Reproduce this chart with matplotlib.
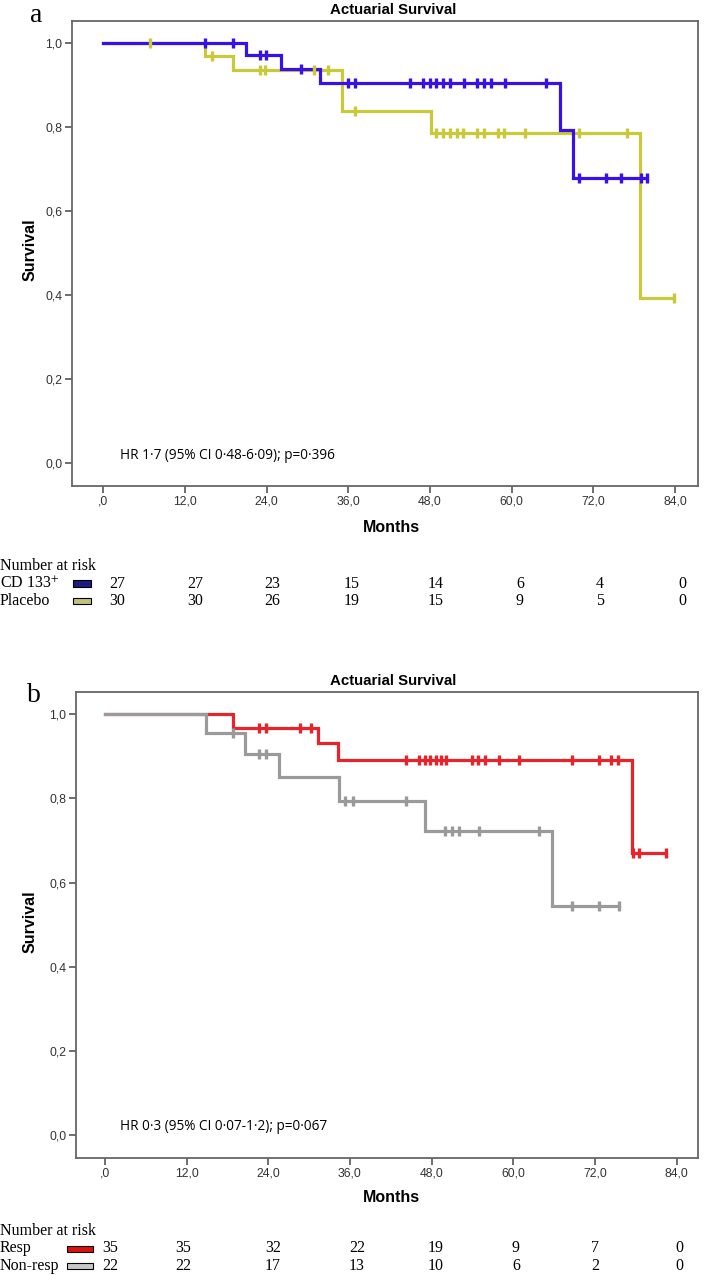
import numpy as np
import matplotlib.pyplot as plt
from matplotlib.patches import Rectangle

plt.rcParams['font.family'] = ['Liberation Sans', 'DejaVu Sans']
plt.rcParams['mathtext.fontset'] = 'stix'

W, H = 709, 1275

month_ticks = [0, 12, 24, 36, 48, 60, 72, 84]
month_labels = [',0', '12,0', '24,0', '36,0', '48,0', '60,0', '72,0', '84,0']
surv_ticks = [0.0, 0.2, 0.4, 0.6, 0.8, 1.0]
surv_labels = ['0,0', '0,2', '0,4', '0,6', '0,8', '1,0']

# panel a: CD133+ vs placebo
cd133_event_t = [21.0, 26.1, 31.9, 67.1, 69.0]
cd133_event_s = [0.973, 0.939, 0.906, 0.794, 0.680]
cd133_cens = [15.0, 19.1, 23.0, 23.9, 29.0, 36.0, 36.9, 45.0, 46.9, 48.0, 48.9,
              49.9, 50.9, 53.0, 54.9, 55.9, 56.9, 59.0, 65.0, 69.9, 73.9, 76.0,
              79.0, 79.9]
placebo_event_t = [14.9, 19.0, 35.0, 48.1, 78.9]
placebo_event_s = [0.970, 0.937, 0.840, 0.787, 0.394]
placebo_cens = [6.9, 16.0, 23.0, 23.8, 30.9, 33.0, 36.9, 48.9, 49.9, 50.9, 51.9,
                52.9, 54.9, 55.9, 58.0, 58.8, 62.0, 69.9, 76.9, 83.9]
cd133_risk = [27, 27, 23, 15, 14, 6, 4, 0]
placebo_risk = [30, 30, 26, 19, 15, 9, 5, 0]

# panel b: responders vs non-responders
resp_event_t = [18.8, 31.3, 34.2, 77.5]
resp_event_s = [0.968, 0.931, 0.891, 0.671]
resp_cens = [22.6, 23.7, 28.6, 30.3, 44.2, 46.1, 47.0, 47.7, 48.6, 49.4, 50.1,
             54.0, 54.8, 55.9, 57.9, 60.8, 68.7, 72.6, 74.4, 75.4, 77.6, 78.5, 82.4]
nonresp_event_t = [14.8, 20.6, 25.6, 34.4, 47.1, 65.7]
nonresp_event_s = [0.955, 0.906, 0.850, 0.795, 0.723, 0.544]
nonresp_cens = [18.8, 22.6, 23.6, 35.3, 36.4, 44.2, 50.0, 51.0, 52.0, 54.9,
                63.8, 68.7, 72.6, 75.5]
resp_risk = [35, 35, 32, 22, 19, 9, 7, 0]
nonresp_risk = [22, 22, 17, 13, 10, 6, 2, 0]


def ft(fig, x, y, s, **kw):
    fig.text(x / W, 1 - y / H, s, **kw)


def km_line(ax, ev_t, ev_s, cens, color):
    end = max(max(cens), ev_t[-1])
    xs = [0] + ev_t + [end]
    ys = [1.0] + ev_s + [ev_s[-1]]
    ax.step(xs, ys, where='post', color=color, lw=2.3, solid_joinstyle='miter')


def km_cens(ax, ev_t, ev_s, cens, color):
    levels = np.array([1.0] + ev_s)
    cy = levels[np.searchsorted(ev_t, cens, side='right')]
    ax.plot(cens, cy, ls='none', marker='|', ms=7.5, mew=2.4, color=color)


def make_axes(fig, l, t, r, b, t0, px_per_month, s1, s0):
    ax = fig.add_axes([l / W, 1 - b / H, (r - l) / W, (b - t) / H])
    ax.set_xlim((l - t0) / px_per_month, (r - t0) / px_per_month)
    ppu = s0 - s1
    ax.set_ylim(-(b - s0) / ppu, 1 + (s1 - t) / ppu)
    ax.set_xticks(month_ticks, month_labels)
    ax.set_yticks(surv_ticks, surv_labels)
    for sp in ax.spines.values():
        sp.set_color('#666666')
        sp.set_linewidth(1.3)
    ax.tick_params(direction='out', length=5, width=1.2, color='#555555',
                   labelsize=8.8, labelcolor='#333333', pad=2)
    return ax


def risk_table(fig, y0, names, risks, colors, name_x, sw_x, sw_w, val_x):
    ft(fig, 0, y0, 'Number at risk', family='Liberation Serif', fontsize=11.5,
       va='center', ha='left')
    for i, (nm, rk, col) in enumerate(zip(names, risks, colors)):
        y = y0 + 17.5 * (i + 1)
        ft(fig, name_x, y, nm, family='Liberation Serif', fontsize=11.5,
           va='center', ha='left')
        fig.add_artist(Rectangle((sw_x / W, 1 - (y + 3) / H), sw_w / W, 6 / H,
                                 transform=fig.transFigure, fc=col, ec='black',
                                 lw=0.8))
        for x, v in zip(val_x, rk):
            ft(fig, x, y, str(v), family='Liberation Serif', fontsize=11.5,
               va='center', ha='center')


fig = plt.figure(figsize=(W / 100, H / 100), dpi=100)

blue = '#3a10e8'
olive = '#c9c93a'
red = '#e8232c'
grey = '#9a9a9a'

# ---- panel a
ax1 = make_axes(fig, 72, 21, 698, 486, 103.3, 6.808, 43.5, 462.7)
km_line(ax1, placebo_event_t, placebo_event_s, placebo_cens, olive)
km_line(ax1, cd133_event_t, cd133_event_s, cd133_cens, blue)
km_cens(ax1, placebo_event_t, placebo_event_s, placebo_cens, olive)
km_cens(ax1, cd133_event_t, cd133_event_s, cd133_cens, blue)
ft(fig, 120, 455, 'HR 1·7 (95% CI 0·48-6·09); p=0·396', family='Open Sans',
   fontsize=9.8, va='center', ha='left')
ft(fig, 393, 10, 'Actuarial Survival', fontsize=10.8, weight='bold',
   ha='center', va='center')
ft(fig, 391, 528, 'Months', fontsize=11.5, weight='bold', ha='center',
   va='center')
ft(fig, 30, 250, 'Survival', fontsize=11.5, weight='bold', ha='center',
   va='center', rotation=90)
ft(fig, 36, 15, 'a', family='Liberation Serif', fontsize=20, ha='center',
   va='center')
risk_table(fig, 566, ['CD 133$^{+}$', 'Placebo'], [cd133_risk, placebo_risk],
           ['#1c1c80', '#c2c27a'], 0, 73, 18,
           [117, 195, 272, 352, 436, 520, 600, 682])

# ---- panel b
ax2 = make_axes(fig, 76, 692, 698, 1158, 105, 6.804, 714.3, 1135)
km_line(ax2, resp_event_t, resp_event_s, resp_cens, red)
km_line(ax2, nonresp_event_t, nonresp_event_s, nonresp_cens, grey)
km_cens(ax2, resp_event_t, resp_event_s, resp_cens, red)
km_cens(ax2, nonresp_event_t, nonresp_event_s, nonresp_cens, grey)
ft(fig, 120, 1126, 'HR 0·3 (95% CI 0·07-1·2); p=0·067', family='Open Sans',
   fontsize=9.8, va='center', ha='left')
ft(fig, 393, 681, 'Actuarial Survival', fontsize=10.8, weight='bold',
   ha='center', va='center')
ft(fig, 391, 1197, 'Months', fontsize=11.5, weight='bold', ha='center',
   va='center')
ft(fig, 30, 922, 'Survival', fontsize=11.5, weight='bold', ha='center',
   va='center', rotation=90)
ft(fig, 34, 696, 'b', family='Liberation Serif', fontsize=20, ha='center',
   va='center')
risk_table(fig, 1231, ['Resp', 'Non-resp'], [resp_risk, nonresp_risk],
           ['#dd1010', '#c8c8c8'], 0, 67, 26,
           [110, 183, 273, 357, 436, 516, 595, 679])

fig.savefig('out.png', dpi=100)
